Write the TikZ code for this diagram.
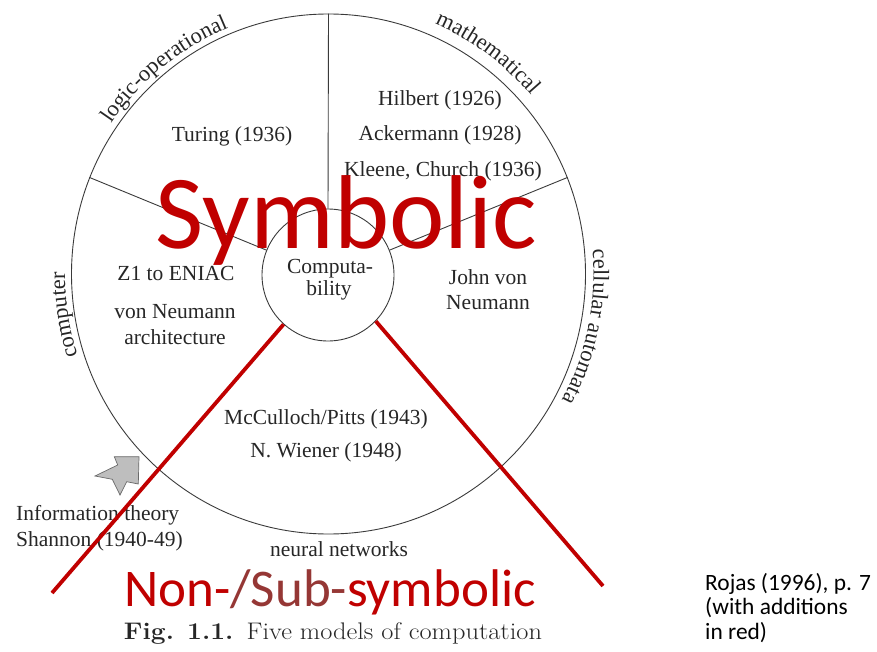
\documentclass[tikz,border=0pt]{standalone}
\usepackage{fontspec}
\newfontfamily\tms{Liberation Serif}
\newfontfamily\slidefont{Carlito}
\usetikzlibrary{decorations.text,shapes.geometric}
\definecolor{ink}{HTML}{262626}
\definecolor{rimgray}{HTML}{3A3A3A}
\definecolor{redmark}{HTML}{C00000}
\definecolor{darkred}{HTML}{953735}
\definecolor{arrowfill}{HTML}{BEBEBE}
\definecolor{arrowline}{HTML}{6A6A6A}
\newcommand\arcfont{\tms\fontsize{22.5}{26}\selectfont\color{ink}}
\begin{document}
\begin{tikzpicture}[x=1pt,y=1pt,
  lbl/.style={font=\tms\fontsize{21.5}{24}\selectfont, text=ink, inner sep=0pt, anchor=base},
  side/.style={lbl, anchor=base west},
  ring/.style={draw=rimgray, line width=0.9pt},
  redline/.style={draw=redmark, line width=3.8pt},
  arclabel/.style={decorate, decoration={text along path, text align=center, text={|\arcfont|#1}}},
  note/.style={font=\slidefont\fontsize{23.4}{25}\selectfont, text=black, inner sep=0pt, anchor=base west}]
\useasboundingbox (0,0) rectangle (877,-652);

% outer ring and the central disc
\node[ring, ellipse, minimum width=514pt, minimum height=520pt, inner sep=0pt] (rim) at (328.5,-274) {};
\node[ring, circle, minimum size=132pt, inner sep=0pt] (core) at (328,-275) {};

% sector borders
\draw[ring] (core.90) -- (rim.90);
\draw[ring] (core.158) -- (rim.158);
\draw[ring] (core.22) -- (rim.22);

% labels set along the rim
\path[arclabel=logic-operational] (rim.center) ++(168.9:263 and 266) arc[start angle=168.9, end angle=88.9, x radius=263, y radius=266];
\path[arclabel=mathematical] (rim.center) ++(94:269 and 272) arc[start angle=94, end angle=14, x radius=269, y radius=272];
\path[arclabel=computer] (rim.center) ++(228.8:263.5 and 266.5) arc[start angle=228.8, end angle=148.8, x radius=263.5, y radius=266.5];
\path[arclabel=cellular automata] (rim.center) ++(33.5:265 and 268) arc[start angle=33.5, end angle=-56.5, x radius=265, y radius=268];

% sector contents
\node[lbl] (turing) at (232,-142) {Turing (1936)};
\node[lbl] (hilbert) at (440,-106) {Hilbert (1926)};
\node[lbl] (ackermann) at (440,-141) {Ackermann (1928)};
\node[lbl] (kleene) at (443,-177) {Kleene, Church (1936)};
\node[lbl] (zuse) at (176,-280) {Z1 to ENIAC};
\node[lbl] (vonneu) at (175,-318) {von Neumann};
\node[lbl] (archi) at (175,-344) {architecture};
\node[lbl] (johnvon) at (488,-284) {John von};
\node[lbl] (neumann) at (488,-309) {Neumann};
\node[lbl] (comp1) at (330,-273) {Computa-};
\node[lbl] (comp2) at (329,-295) {bility};
\node[lbl] (mcp) at (326,-424) {McCulloch/Pitts (1943)};
\node[lbl] (wiener) at (326,-457) {N. Wiener (1948)};
\node[lbl] (neural) at (339,-556) {neural networks};
\node[side] (info) at (16,-520) {Information theory};
\node[side] (shannon) at (16,-546) {Shannon (1940-49)};

% pointer towards the ring
\draw[arrowline, fill=arrowfill, line width=0.7pt, line join=miter]
  (139,-456.7) -- (114.3,-456.7) -- (117.7,-465) -- (95,-476) -- (112.3,-479.3)
  -- (120,-495) -- (126.7,-481.7) -- (138.3,-484) -- cycle;

% caption
\node[font=\fontsize{24}{28}\selectfont, text=ink, inner sep=0pt, anchor=base, xscale=1.1, transform shape] (caption) at (333,-639)
  {\textbf{Fig. 1.1.}\enspace Five models of computation};

% red additions
\coordinate (endL) at (52,-593);
\coordinate (endR) at (603,-586);
\draw[redline] (core.228) -- (endL);
\draw[redline] (core.316) -- (endR);
\node[font=\slidefont\fontsize{105}{110}\selectfont, text=redmark, inner sep=0pt, anchor=base] (symbolic) at (346.5,-248) {Symbolic};
\node[font=\slidefont\fontsize{53}{60}\selectfont, inner sep=0pt, anchor=base] (subsym) at (330,-606)
  {\textcolor{redmark}{Non-}\textcolor{darkred}{/Sub-}\textcolor{redmark}{symbolic}};

% source note
\node[note] (src1) at (705,-590) {Rojas (1996), p. 7};
\node[note] (src2) at (705,-614.5) {(with additions};
\node[note] (src3) at (705,-639) {in red)};
\end{tikzpicture}
\end{document}
